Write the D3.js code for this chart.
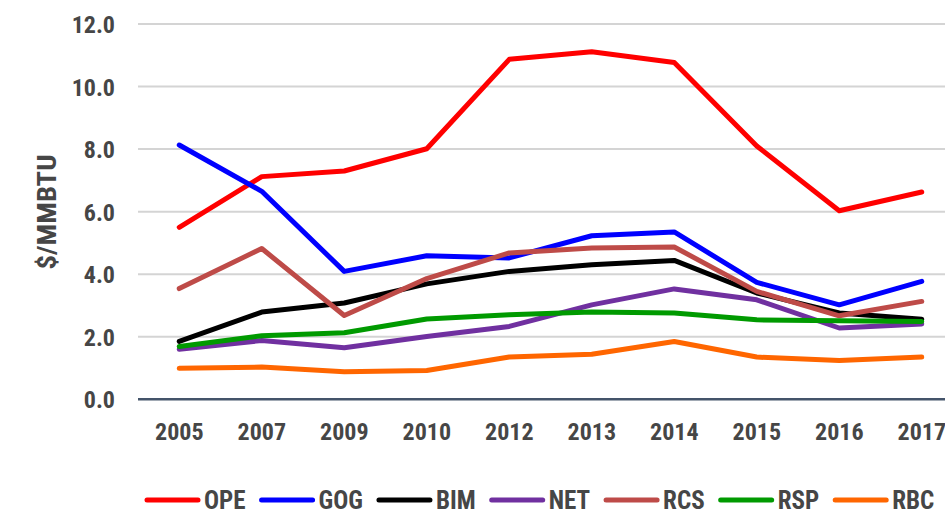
<!DOCTYPE html>
<html>
<head>
<meta charset="utf-8">
<script src="https://cdn.jsdelivr.net/npm/d3@7"></script>
<style>
  body { margin: 0; background: #fff; }
  svg text { font-family: "Liberation Sans Narrow", "Arial Narrow", "Roboto Condensed", Roboto, sans-serif; font-weight: bold; fill: #464646; }
</style>
</head>
<body>
<svg width="945" height="514"></svg>
<script>
// data ($/MMBTU)
var years = ["2005", "2007", "2009", "2010", "2012", "2013", "2014", "2015", "2016", "2017"];
var seriesNames = ["OPE", "GOG", "BIM", "NET", "RCS", "RSP", "RBC"];
var seriesColors = ["#ff0000", "#0000ff", "#000000", "#7030a0", "#be4b48", "#009a00", "#ff6600"];

var OPE = [5.50, 7.12, 7.30, 8.01, 10.87, 11.11, 10.77, 8.10, 6.03, 6.63];
var GOG = [8.13, 6.65, 4.09, 4.59, 4.52, 5.23, 5.35, 3.74, 3.02, 3.77];
var BIM = [1.85, 2.79, 3.08, 3.69, 4.09, 4.30, 4.44, 3.40, 2.76, 2.56];
var NET = [1.60, 1.88, 1.65, 2.01, 2.33, 3.02, 3.53, 3.18, 2.28, 2.41];
var RCS = [3.54, 4.82, 2.68, 3.86, 4.68, 4.84, 4.87, 3.45, 2.67, 3.13];
var RSP = [1.69, 2.03, 2.13, 2.57, 2.70, 2.79, 2.76, 2.54, 2.51, 2.49];
var RBC = [0.99, 1.03, 0.88, 0.92, 1.35, 1.44, 1.85, 1.35, 1.24, 1.35];
var yTicks = [0, 2, 4, 6, 8, 10, 12];

var allValues = [OPE, GOG, BIM, NET, RCS, RSP, RBC];

var svg = d3.select("svg"),
width = +svg.attr("width"),
height = +svg.attr("height");

var left = 138;

var x = d3.scaleBand()
  .domain(years)
  .range([left, 963]);

var y = d3.scaleLinear()
  .domain([0, 12])
  .range([399.3, 24]);

var xc = d => x(d) + x.bandwidth() / 2;

// GRID
svg.append("g")
  .selectAll("line")
  .data(yTicks.filter(d => d > 0))
  .enter().append("line")
    .attr("x1", left)
    .attr("x2", width)
    .attr("y1", d => y(d))
    .attr("y2", d => y(d))
    .attr("stroke", "#d4d4d4")
    .attr("stroke-width", 2);

// Y AXIS labels
var yAxis = d3.axisLeft(y)
  .tickValues(yTicks)
  .tickFormat(d3.format(".1f"))
  .tickSize(0)
  .tickPadding(23);

svg.append("g")
  .attr("transform", `translate(${left},0)`)
  .call(yAxis)
  .call(g => g.select(".domain").remove())
  .selectAll("text")
    .style("font-size", "24px")
    .attr("dy", "0.36em");

// X AXIS
var xAxis = d3.axisBottom(x).tickSize(0).tickPadding(24);

svg.append("g")
  .attr("transform", `translate(0,${y(0)})`)
  .call(xAxis)
  .call(g => g.select(".domain").remove())
  .selectAll("text")
    .style("font-size", "24px");

// baseline
svg.append("line")
  .attr("x1", left)
  .attr("x2", width)
  .attr("y1", y(0))
  .attr("y2", y(0))
  .attr("stroke", "#44546a")
  .attr("stroke-width", 2.5);

// axis title
svg.append("text")
  .attr("transform", `translate(56,212) rotate(-90)`)
  .attr("text-anchor", "middle")
  .attr("textLength", 115)
  .attr("lengthAdjust", "spacingAndGlyphs")
  .style("font-size", "26px")
  .text("$/MMBTU");

// LINES
var line = d3.line()
  .x((d, i) => xc(years[i]))
  .y(d => y(d));

svg.append("g")
  .selectAll("path")
  .data(allValues)
  .enter().append("path")
    .attr("d", line)
    .attr("fill", "none")
    .attr("stroke", (d, i) => seriesColors[i])
    .attr("stroke-width", 5)
    .attr("stroke-linecap", "round")
    .attr("stroke-linejoin", "round");

// LEGEND
var legend = svg.append("g").attr("id", "legend");
var lx = 145, ly = 500;
seriesNames.forEach(function(name, i) {
  legend.append("line")
    .attr("x1", lx + 2)
    .attr("x2", lx + 53)
    .attr("y1", ly)
    .attr("y2", ly)
    .attr("stroke", seriesColors[i])
    .attr("stroke-width", 5)
    .attr("stroke-linecap", "round");
  var t = legend.append("text")
    .attr("x", lx + 59)
    .attr("y", ly)
    .attr("dy", "0.34em")
    .style("font-size", "25px")
    .text(name);
  lx = lx + 59 + t.node().getComputedTextLength() + 14;
});
</script>
</body>
</html>
